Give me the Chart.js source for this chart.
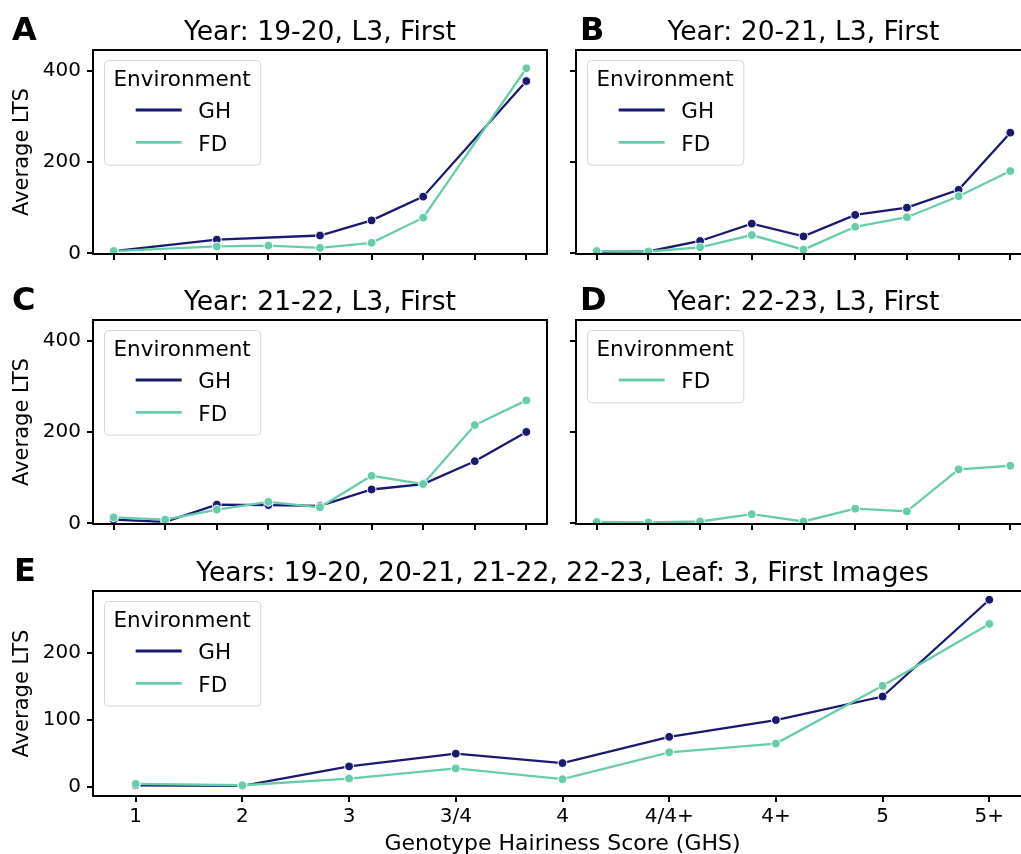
<!DOCTYPE html>
<html>
<head>
<meta charset="utf-8">
<script src="https://cdn.jsdelivr.net/npm/chart.js@4.4.1/dist/chart.umd.min.js"></script>
<style>
  html, body { margin: 0; padding: 0; background: #fff; }
  body { width: 1021px; height: 854px; position: relative; overflow: hidden; }
  canvas { position: absolute; left: 0; top: 0; }
</style>
</head>
<body>
<canvas id="chartA" width="1040" height="854"></canvas>
<canvas id="chartB" width="1040" height="854"></canvas>
<canvas id="chartC" width="1040" height="854"></canvas>
<canvas id="chartD" width="1040" height="854"></canvas>
<canvas id="chartE" width="1040" height="854"></canvas>
<script>
// categories on the x axis (Genotype Hairiness Score)
const categories = ['1', '2', '3', '3/4', '4', '4/4+', '4+', '5', '5+'];

// average LTS per panel, null = no data for that score
const ghA = [5, null, 30, null, 39, 72, 124, null, 377];
const fdA = [5, null, 15, 17, 12, 23, 78, null, 405];
const ghB = [4, 4, 27, 65, 37, 84, 100, 139, 264];
const fdB = [5, 4, 13, 40, 8, 58, 79, 125, 180];
const ghC = [8, 3, 41, 40, 38, 74, 86, 136, 200];
const fdC = [13, 8, 30, 47, 35, 104, 86, 215, 269];
const fdD = [3, 2, 4, 20, 4, 32, 26, 118, 126];
const ghE = [3, 2, 31, 50, 36, 75, 100, 135, 279];
const fdE = [5, 3, 13, 28, 12, 52, 65, 151, 243];

// y tick labels
const yTicksYear = [0, 200, 400];
const yTicksAll = [0, 100, 200];

const GH_COLOR = '#191970';
const FD_COLOR = '#66cdaa';
const FONT = "'DejaVu Sans', sans-serif";
// the figure runs a little past the right edge of the page, so the canvases are wider
const W = 1040, H = 854;

Chart.defaults.font.family = FONT;
Chart.defaults.color = '#000';

// spines, panel title, panel letter and the boxed legend
const panelDecor = {
  id: 'panelDecor',
  afterDraw(chart, args, opts) {
    const ctx = chart.ctx;
    const a = chart.chartArea;
    ctx.save();
    ctx.strokeStyle = '#000';
    ctx.lineWidth = 2;
    ctx.strokeRect(a.left, a.top, a.right - a.left, a.bottom - a.top);

    ctx.fillStyle = '#000';
    ctx.textBaseline = 'alphabetic';
    ctx.font = '26.6px ' + FONT;
    ctx.textAlign = 'center';
    ctx.fillText(opts.title, (a.left + a.right) / 2, a.top - 10.5);

    ctx.font = 'bold 32px ' + FONT;
    ctx.textAlign = 'left';
    ctx.fillText(opts.letter, opts.letterX, a.top - 10);

    // legend
    ctx.font = '21.5px ' + FONT;
    const titleW = ctx.measureText('Environment').width;
    const n = chart.data.datasets.length;
    const rowH = 32.3;
    const w = titleW + 19, h = 40 + n * rowH;
    const x0 = a.left + 11, y0 = a.top + 10;
    ctx.beginPath();
    ctx.roundRect(x0 + 0.5, y0 + 0.5, w, h, 4);
    ctx.fillStyle = 'rgba(255,255,255,0.8)';
    ctx.fill();
    ctx.strokeStyle = '#d6d6d6';
    ctx.lineWidth = 1;
    ctx.stroke();
    ctx.fillStyle = '#000';
    ctx.textAlign = 'center';
    ctx.fillText('Environment', x0 + w / 2, y0 + 25.7);
    ctx.textAlign = 'left';
    chart.data.datasets.forEach((ds, i) => {
      const yy = y0 + 50 + i * rowH;
      ctx.strokeStyle = ds.borderColor;
      ctx.lineWidth = 2.8;
      ctx.beginPath();
      ctx.moveTo(x0 + 31.7, yy);
      ctx.lineTo(x0 + 77.7, yy);
      ctx.stroke();
      ctx.fillText(ds.label, x0 + 94.3, y0 + 58.3 + i * rowH);
    });
    ctx.restore();
  }
};

function series(label, values, color, order) {
  return {
    label: label,
    data: values.map((v, i) => ({x: i, y: v})),
    borderColor: color,
    backgroundColor: color,
    borderWidth: 2.3,
    pointRadius: 4.4,
    pointBorderWidth: 1,
    pointBorderColor: '#fff',
    pointBackgroundColor: color,
    tension: 0,
    spanGaps: true,
    order: order
  };
}

function makePanel(id, cfg) {
  const area = cfg.area;
  const datasets = [];
  if (cfg.gh) datasets.push(series('GH', cfg.gh, GH_COLOR, 1));
  if (cfg.fd) datasets.push(series('FD', cfg.fd, FD_COLOR, 0));
  return new Chart(document.getElementById(id), {
    type: 'line',
    data: {datasets: datasets},
    options: {
      responsive: false,
      animation: false,
      devicePixelRatio: 1,
      layout: {padding: {left: 0, top: area[1], right: W - area[2], bottom: 0}},
      plugins: {
        legend: {display: false},
        tooltip: {enabled: false},
        panelDecor: {title: cfg.title, letter: cfg.letter, letterX: cfg.letterX}
      },
      scales: {
        x: {
          type: 'linear',
          min: -0.4,
          max: 8.4,
          afterFit: s => { s.height = H - area[3]; },
          afterBuildTicks: s => { s.ticks = categories.map((c, i) => ({value: i})); },
          grid: {drawOnChartArea: false, drawTicks: true, tickLength: 6, lineWidth: 2, color: '#000'},
          border: {display: false},
          ticks: {
            font: {size: 20},
            padding: 3,
            maxRotation: 0,
            autoSkip: false,
            callback: v => cfg.xLabels ? categories[v] : ''
          },
          title: {
            display: !!cfg.xLabels,
            text: 'Genotype Hairiness Score (GHS)',
            font: {size: 22},
            padding: {top: 0, bottom: -3}
          }
        },
        y: {
          type: 'linear',
          min: cfg.yMin,
          max: cfg.yMax,
          afterFit: s => { s.width = area[0]; },
          afterBuildTicks: s => { s.ticks = cfg.yTicks.map(v => ({value: v})); },
          grid: {drawOnChartArea: false, drawTicks: true, tickLength: 6, lineWidth: 2, color: '#000'},
          border: {display: false},
          ticks: {
            font: {size: 20},
            padding: 6,
            callback: v => cfg.yLabels ? String(v) : ''
          },
          title: {
            display: !!cfg.yLabels,
            text: 'Average LTS',
            font: {size: 21},
            padding: {top: 10, bottom: 0}
          }
        }
      }
    },
    plugins: [panelDecor]
  });
}

makePanel('chartA', {title: 'Year: 19-20, L3, First', letter: 'A', letterX: 12,
  area: [93, 50, 547, 254], gh: ghA, fd: fdA, yMin: -1.5, yMax: 445, yTicks: yTicksYear, yLabels: true});
makePanel('chartB', {title: 'Year: 20-21, L3, First', letter: 'B', letterX: 580,
  area: [576, 50, 1031, 254], gh: ghB, fd: fdB, yMin: -1.5, yMax: 445, yTicks: yTicksYear, yLabels: false});
makePanel('chartC', {title: 'Year: 21-22, L3, First', letter: 'C', letterX: 12,
  area: [93, 320, 547, 524], gh: ghC, fd: fdC, yMin: -1.5, yMax: 445, yTicks: yTicksYear, yLabels: true});
makePanel('chartD', {title: 'Year: 22-23, L3, First', letter: 'D', letterX: 580,
  area: [576, 320, 1031, 524], fd: fdD, yMin: -1.5, yMax: 445, yTicks: yTicksYear, yLabels: false});
makePanel('chartE', {title: 'Years: 19-20, 20-21, 21-22, 22-23, Leaf: 3, First Images', letter: 'E', letterX: 14,
  area: [93, 591, 1032, 796], gh: ghE, fd: fdE, yMin: -13, yMax: 292, yTicks: yTicksAll, yLabels: true, xLabels: true});
</script>
</body>
</html>
